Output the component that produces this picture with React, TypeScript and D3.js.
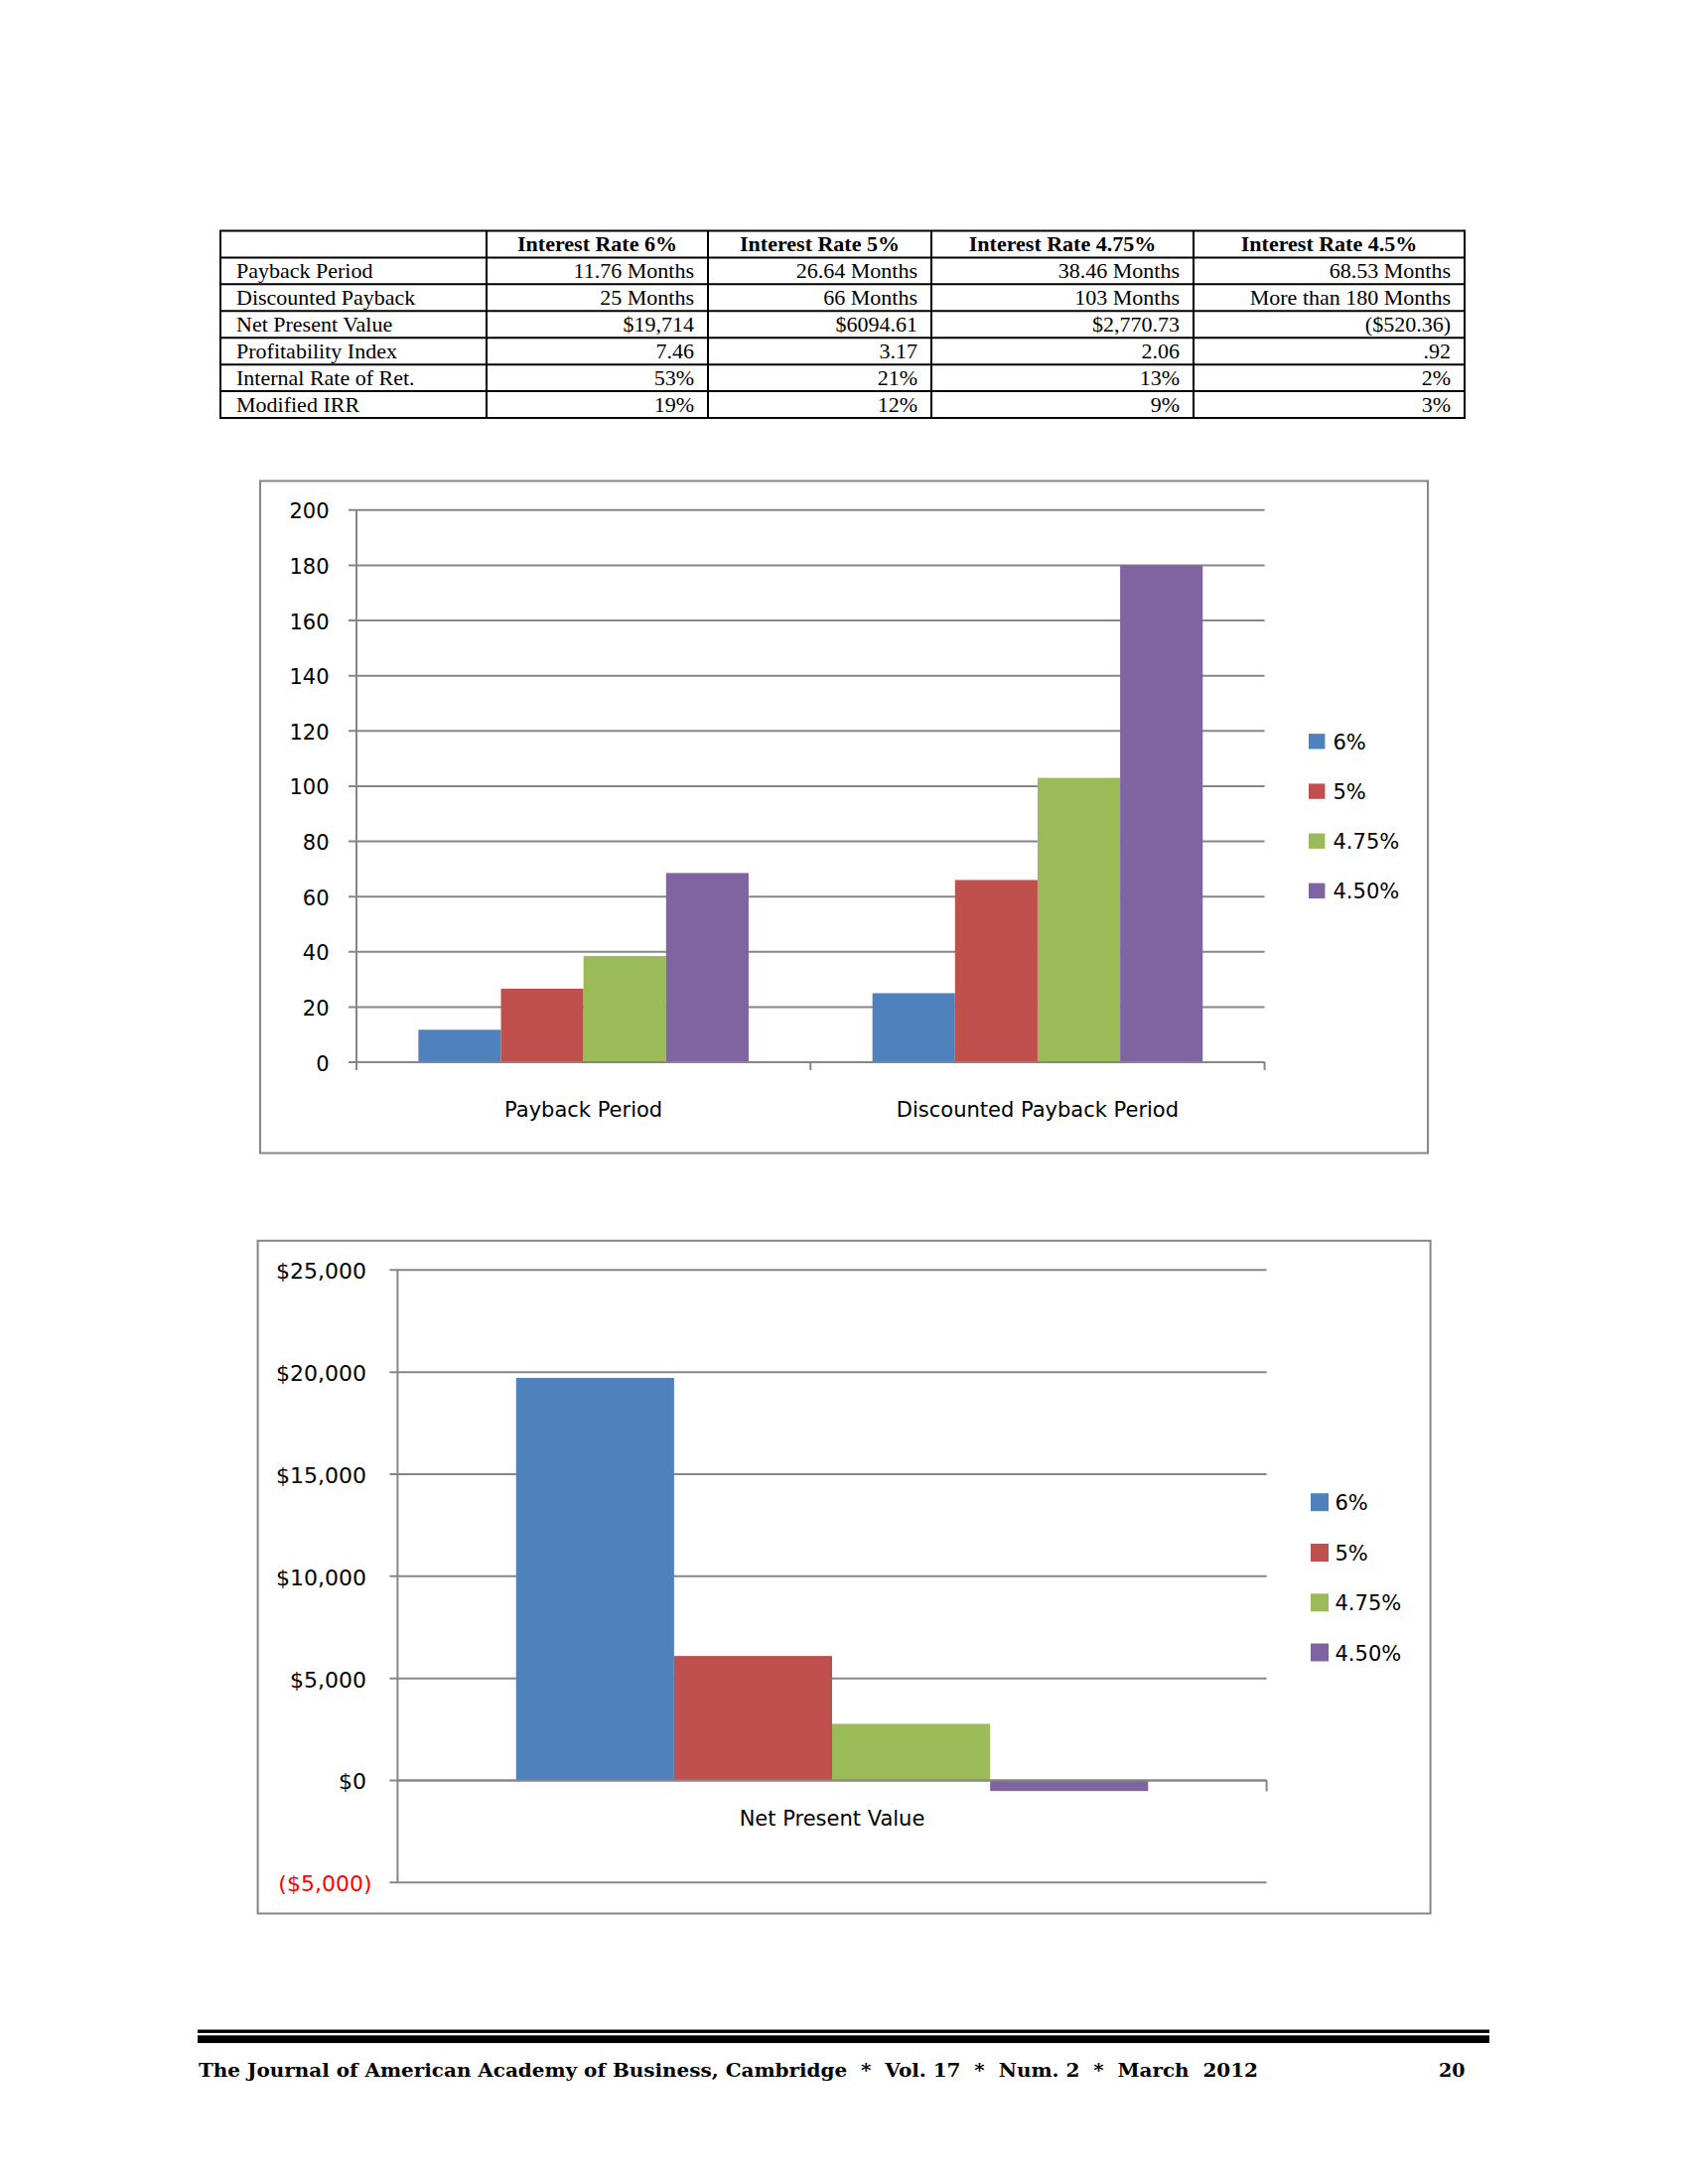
import React from "react";
import * as d3 from "d3";

// ---------- DATA ----------
const tableHeaders = ["Interest Rate 6%", "Interest Rate 5%", "Interest Rate 4.75%", "Interest Rate 4.5%"];
const tableRowLabels = ["Payback Period", "Discounted Payback", "Net Present Value", "Profitability Index", "Internal Rate of Ret.", "Modified IRR"];
const col6 = ["11.76 Months", "25 Months", "$19,714", "7.46", "53%", "19%"];
const col5 = ["26.64 Months", "66 Months", "$6094.61", "3.17", "21%", "12%"];
const col475 = ["38.46 Months", "103 Months", "$2,770.73", "2.06", "13%", "9%"];
const col45 = ["68.53 Months", "More than 180 Months", "($520.36)", ".92", "2%", "3%"];

const seriesNames = ["6%", "5%", "4.75%", "4.50%"];
const seriesColors = ["#4F81BD", "#C0504D", "#9BBB59", "#8064A2"];

const paybackCategories = ["Payback Period", "Discounted Payback Period"];
const payback6 = [11.76, 25];
const payback5 = [26.64, 66];
const payback475 = [38.46, 103];
const payback45 = [68.53, 180];
const paybackTicks = [0, 20, 40, 60, 80, 100, 120, 140, 160, 180, 200];

const npvCategories = ["Net Present Value"];
const npv6 = [19714];
const npv5 = [6094.61];
const npv475 = [2770.73];
const npv45 = [-520.36];
const npvTicks = [-5000, 0, 5000, 10000, 15000, 20000, 25000];

const footerText = "The Journal of American Academy of Business, Cambridge  *  Vol. 17  *  Num. 2  *  March  2012";
const footerPage = "20";

// ---------- STYLE ----------
const GRID = "#868686";
const SANS = "'DejaVu Sans', Verdana, sans-serif";
const SERIF = "'Liberation Serif', 'Times New Roman', serif";

function Table() {
  const colX = [222, 490, 713, 938, 1202, 1475];
  const top = 232.5;
  const rowH = 26.93;
  const nRows = tableRowLabels.length + 1;
  const columns = [col6, col5, col475, col45];
  const els: React.ReactNode[] = [];
  for (let i = 0; i <= nRows; i++) {
    const y = top + i * rowH;
    els.push(<line key={"h" + i} x1={colX[0] - 1} x2={colX[colX.length - 1] + 1} y1={y} y2={y} stroke="#000" strokeWidth={2} />);
  }
  colX.forEach((x, i) => {
    els.push(<line key={"v" + i} x1={x} x2={x} y1={top} y2={top + nRows * rowH} stroke="#000" strokeWidth={2} />);
  });
  tableHeaders.forEach((h, j) => {
    els.push(
      <text key={"hd" + j} x={(colX[j + 1] + colX[j + 2]) / 2} y={top + 20.5} textAnchor="middle"
        fontFamily={SERIF} fontWeight="bold" fontSize={22}>{h}</text>
    );
  });
  tableRowLabels.forEach((lab, i) => {
    const y = top + (i + 1) * rowH + 20.5;
    els.push(<text key={"rl" + i} x={colX[0] + 16} y={y} fontFamily={SERIF} fontSize={22}>{lab}</text>);
    columns.forEach((c, j) => {
      els.push(
        <text key={"c" + i + "_" + j} x={colX[j + 2] - 14} y={y} textAnchor="end" fontFamily={SERIF} fontSize={22}>{c[i]}</text>
      );
    });
  });
  return <g>{els}</g>;
}

function PaybackChart() {
  const box = { x: 262, y: 484.5, w: 1176, h: 677 };
  const axisX0 = 359, axisX1 = 1273.6;
  const y = d3.scaleLinear().domain([0, 200]).range([1070, 513.8]);
  const x0 = d3.scaleBand<string>().domain(paybackCategories).range([axisX0, axisX1]).paddingInner(0).paddingOuter(0);
  const x1 = d3.scaleBand<string>().domain(seriesNames).range([0, x0.bandwidth()]).paddingInner(0).paddingOuter(0.75);
  const series = [payback6, payback5, payback475, payback45];
  const legendY = [746.9, 797.2, 847.3, 897.4];
  return (
    <g>
      <rect x={box.x} y={box.y} width={box.w} height={box.h} fill="#fff" stroke={GRID} strokeWidth={2} />
      {paybackTicks.map((t) => (
        <g key={t}>
          <line x1={axisX0 - 8} x2={axisX1} y1={y(t)} y2={y(t)} stroke={GRID} strokeWidth={2} />
          <text x={331.5} y={y(t) + 1.5} textAnchor="end" dominantBaseline="central" fontFamily={SANS} fontSize={21}>{t}</text>
        </g>
      ))}
      {paybackCategories.map((c, ci) =>
        series.map((s, si) => (
          <rect key={c + si} x={(x0(c) as number) + (x1(seriesNames[si]) as number)} width={x1.bandwidth()}
            y={y(s[ci])} height={y(0) - y(s[ci])} fill={seriesColors[si]} />
        ))
      )}
      <line x1={axisX0} x2={axisX0} y1={y(200)} y2={y(0) + 8} stroke={GRID} strokeWidth={2} />
      <line x1={axisX0} x2={axisX1} y1={y(0)} y2={y(0)} stroke={GRID} strokeWidth={2} />
      {[...paybackCategories.map((c) => x0(c) as number), axisX1].map((tx, i) => (
        <line key={"xt" + i} x1={tx} x2={tx} y1={y(0)} y2={y(0) + 8} stroke={GRID} strokeWidth={2} />
      ))}
      {paybackCategories.map((c) => (
        <text key={c} x={(x0(c) as number) + x0.bandwidth() / 2} y={1118} textAnchor="middle" dominantBaseline="central"
          fontFamily={SANS} fontSize={21}>{c}</text>
      ))}
      {seriesNames.map((n, i) => (
        <g key={n}>
          <rect x={1318} y={legendY[i] - 7.8} width={16.4} height={15.4} fill={seriesColors[i]} />
          <text x={1342.5} y={legendY[i] + 1} dominantBaseline="central" fontFamily={SANS} fontSize={21}>{n}</text>
        </g>
      ))}
    </g>
  );
}

function NpvChart() {
  const box = { x: 259.6, y: 1249.8, w: 1181, h: 677.7 };
  const axisX0 = 400.4, axisX1 = 1275.6;
  const y = d3.scaleLinear().domain([-5000, 25000]).range([1896.3, 1279.3]);
  const x0 = d3.scaleBand<string>().domain(npvCategories).range([axisX0, axisX1]).paddingInner(0).paddingOuter(0);
  const x1 = d3.scaleBand<string>().domain(seriesNames).range([0, x0.bandwidth()]).paddingInner(0).paddingOuter(0.75);
  const series = [npv6, npv5, npv475, npv45];
  const fmt = (v: number) => {
    const s = "$" + d3.format(",")(Math.abs(v));
    return v < 0 ? "(" + s + ")" : s;
  };
  const legendY = [1513.2, 1564.0, 1614.3, 1664.5];
  return (
    <g>
      <rect x={box.x} y={box.y} width={box.w} height={box.h} fill="#fff" stroke={GRID} strokeWidth={2} />
      {npvTicks.map((t) => (
        <g key={t}>
          <line x1={axisX0 - 8} x2={axisX1} y1={y(t)} y2={y(t)} stroke={GRID} strokeWidth={2} />
          <text x={t < 0 ? 374.5 : 369} y={y(t) + 1.5} textAnchor="end" dominantBaseline="central" fontFamily={SANS}
            fontSize={22} fill={t < 0 ? "#FF0000" : "#000"}>{fmt(t)}</text>
        </g>
      ))}
      {npvCategories.map((c, ci) =>
        series.map((s, si) => {
          const v = s[ci];
          return (
            <rect key={c + si} x={(x0(c) as number) + (x1(seriesNames[si]) as number)} width={x1.bandwidth()}
              y={Math.min(y(v), y(0))} height={Math.abs(y(0) - y(v))} fill={seriesColors[si]} />
          );
        })
      )}
      <line x1={axisX0} x2={axisX0} y1={y(25000)} y2={y(-5000)} stroke={GRID} strokeWidth={2} />
      <line x1={axisX0} x2={axisX1} y1={y(0)} y2={y(0)} stroke={GRID} strokeWidth={2} />
      <line x1={axisX1} x2={axisX1} y1={y(0)} y2={y(0) + 11} stroke={GRID} strokeWidth={2} />
      {npvCategories.map((c) => (
        <text key={c} x={(x0(c) as number) + x0.bandwidth() / 2} y={1831.5} textAnchor="middle" dominantBaseline="central"
          fontFamily={SANS} fontSize={21}>{c}</text>
      ))}
      {seriesNames.map((n, i) => (
        <g key={n}>
          <rect x={1320} y={legendY[i] - 9} width={18} height={18} fill={seriesColors[i]} />
          <text x={1344.5} y={legendY[i] + 1} dominantBaseline="central" fontFamily={SANS} fontSize={21}>{n}</text>
        </g>
      ))}
    </g>
  );
}

function Footer() {
  return (
    <g>
      <rect x={199} y={2044.5} width={1301} height={3.4} fill="#000" />
      <rect x={199} y={2050.3} width={1301} height={7.7} fill="#000" />
      <text x={200} y={2092} fontFamily="'DejaVu Serif', Georgia, serif" fontWeight="bold" fontSize={19}
        textLength={1067} lengthAdjust="spacingAndGlyphs" xmlSpace="preserve">{footerText}</text>
      <text x={1475.5} y={2092} textAnchor="end" fontFamily="'DejaVu Serif', Georgia, serif" fontWeight="bold" fontSize={19}>{footerPage}</text>
    </g>
  );
}

export default function App() {
  return (
    <svg width={1700} height={2200} style={{ position: "absolute", left: 0, top: 0, background: "#fff" }}>
      <rect x={0} y={0} width={1700} height={2200} fill="#fff" />
      <Table />
      <PaybackChart />
      <NpvChart />
      <Footer />
    </svg>
  );
}
